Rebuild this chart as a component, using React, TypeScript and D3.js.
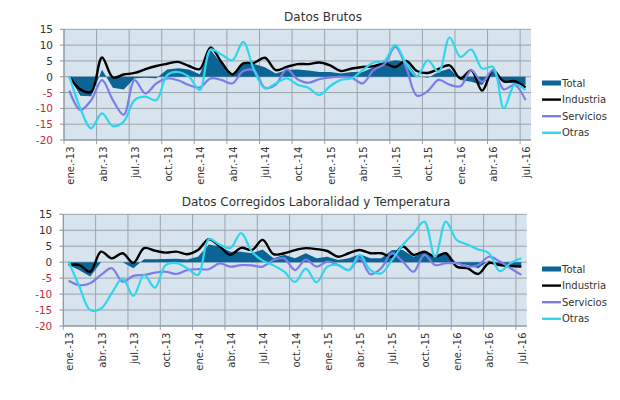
import * as d3 from "d3";
import React from "react";

// month ticks, one label every 3 months (ene.-13 .. jul.-16)
const tickLabels = [
  "ene.-13", "abr.-13", "jul.-13", "oct.-13",
  "ene.-14", "abr.-14", "jul.-14", "oct.-14",
  "ene.-15", "abr.-15", "jul.-15", "oct.-15",
  "ene.-16", "abr.-16", "jul.-16",
];
const yTicks = [15, 10, 5, 0, -5, -10, -15, -20];
const seriesNames = ["Total", "Industria", "Servicios", "Otras"];

// Datos Brutos (monthly, ene.-13 .. jul.-16)
const brutosTotal = [
  0, -6, -6.2, 2.2, -3.5, -4, -0.5, -0.3, -0.5, 2.3, 2.7, 2.3, 0.8, 8.5, 4,
  1.0, 4.2, 4.0, 3.0, 1.0, 2.1, 2.3, 2.0, 1.5, 1.5, 1.0, 1.5, 1.5, 3.0, 4.5,
  5.2, 4.8, 0.2, -0.3, 1.5, 2.6, -1.0, -1.6, -2.6, 2.0, -1.8, -2.1, -2.6,
];
const brutosIndustria = [
  0, -4, -4.8, 6.1, -0.2, 0.7, 1.2, 2.4, 3.4, 4.1, 4.7, 3.4, 2.4, 9.3, 4.6,
  0.7, 4.2, 4.4, 6.0, 2.1, 3.1, 4.0, 4.0, 4.5, 3.6, 1.8, 2.6, 3.1, 3.3, 4.2,
  3.1, 5.0, 1.8, 1.2, 2.5, 3.6, -0.5, 2.0, -4.4, 2.0, -1.5, -1.4, -3.4,
];
const brutosServicios = [
  -4.4, -10.5, -7.4, -1.1, -7.4, -12, -1.1, -5.3, -2.1, -0.5, -1.1, -2.6,
  -3.4, -0.5, -1.0, -2.1, 1.8, 2.0, -3.5, -2.5, 2.3, -0.8, -1.9, -0.8, -0.2,
  0, -0.3, -2.1, 2.1, 4, 9.4, 3, -6, -4.5, -1.0, -2.5, -3.0, 2.0, -1.6, 2.0,
  -4.0, -2.6, -7.4,
];
const brutosOtras = [
  0.2, -10, -16.3, -11.6, -15.6, -14.2, -7.4, -6.3, -7.4, 0.5, 1.5, 0, -4.2,
  8.6, 7, 5.2, 11, 2.1, -3.7, -2.1, -0.5, -2.5, -3.5, -5.8, -3.0, -1.0, -0.5,
  2.1, 4.5, 5.0, 10, 4.2, 0.2, 5.2, 1.5, 12.4, 6.3, 8.6, 2.6, 3.1, -10, -2.6,
  -4.2,
];

// Datos Corregidos Laboralidad y Temperatura
const corrTotal = [
  -0.9, -2.5, -4.5, 0, 0, 0, -1.9, 0.9, 0.9, 1.0, 1.1, 0.8, 1.7, 5.5, 4.9,
  3.3, 3.3, 2.8, 4.0, 1.2, 2.3, 1.2, 2.8, 1.2, 1.7, 0.7, 1.2, 2.5, 1.2, 1.2,
  3.8, 3.8, 1.7, 3.3, 1.2, 3.3, -0.3, -0.9, -1.9, 0.5, -0.9, -1.4, -1.2,
];
const corrIndustria = [
  -0.9, -0.9, -3.0, 3.3, 1.2, 2.8, -0.2, 4.4, 3.6, 3.0, 3.3, 2.5, 3.8, 7.2,
  5.0, 2.3, 4.5, 3.8, 7.0, 2.5, 2.8, 3.8, 4.4, 4.1, 3.5, 1.7, 2.8, 3.8, 2.8,
  2.8, 1.7, 4.9, 2.3, 3.3, 1.7, 2.8, -1.4, -1.9, -3.7, -0.3, -0.9, -1.2, -1.4,
];
const corrServicios = [
  -5.8, -7.2, -6.6, -4.0, -1.9, -6.1, -4.3, -4.0, -3.3, -3.0, -3.7, -2.5,
  -2.2, -2.2, -0.4, -1.4, -0.9, -1.0, -1.4, 0.7, 1.2, -2.5, 0.8, -1.4, 0.2,
  -0.9, -2.5, 1.2, -3.8, -1.9, 2.8, 0.2, -3.0, 2.3, -0.9, -0.3, -0.3, -1.4,
  -0.9, 1.7, 0.2, -1.9, -4.0,
];
const corrOtras = [
  0.2, -7.7, -15, -14.5, -9.7, -5.1, -10.6, -4.0, -8.0, -0.9, -0.3, -1.9,
  -4.0, 7.2, 5.5, 4.4, 9.1, 3.3, 0.5, -1.0, -3.0, -6.2, -2.0, -6.3, -1.4,
  -0.9, -2.5, 2.3, -2.5, -3.5, 0.7, 5.4, 9.0, 12.7, 1.7, 12.7, 7.0, 5.5, 4.0,
  2.8, -2.8, -0.3, 1.2,
];

const colors = {
  total: "#0b6494",
  industria: "#000000",
  servicios: "#7b7de8",
  otras: "#2fd6ec",
};
const font = "'DejaVu Sans', Verdana, sans-serif";

interface PanelProps {
  title: string;
  titleX: number;
  titleY: number;
  left: number;
  right: number;
  top: number;
  bottom: number;
  legendY: number;
  total: number[];
  industria: number[];
  servicios: number[];
  otras: number[];
}

const Panel: React.FC<PanelProps> = (p) => {
  const n = p.total.length;
  const band = d3
    .scaleBand<number>()
    .domain(d3.range(n))
    .range([p.left, p.right]);
  const cx = (i: number) => band(i)! + band.bandwidth() / 2;
  const y = d3.scaleLinear().domain([-20, 15]).range([p.bottom, p.top]);

  const line = d3
    .line<number>()
    .x((_, i) => cx(i))
    .y((d) => y(d))
    .curve(d3.curveCatmullRom.alpha(0.5));
  const area = d3
    .area<number>()
    .x((_, i) => cx(i))
    .y0(y(0))
    .y1((d) => y(d));

  const quarters = d3.range(0, n, 3);
  const lineSeries = [
    { v: p.industria, c: colors.industria, w: 2.4 },
    { v: p.servicios, c: colors.servicios, w: 2.2 },
    { v: p.otras, c: colors.otras, w: 2.2 },
  ];
  const legendColors = [colors.total, colors.industria, colors.servicios, colors.otras];

  return (
    <g fontFamily={font}>
      <text x={p.titleX} y={p.titleY} textAnchor="middle" fontSize={12} fill="#333">
        {p.title}
      </text>
      <rect
        x={p.left}
        y={p.top}
        width={p.right - p.left}
        height={p.bottom - p.top}
        fill="#d7e3ed"
      />
      {yTicks.map((t) => (
        <g key={t}>
          <line x1={p.left} x2={p.right} y1={y(t)} y2={y(t)} stroke="#9ba4ad" strokeWidth={1} />
          <line x1={p.left - 4} x2={p.left} y1={y(t)} y2={y(t)} stroke="#8a939c" />
          <text
            x={p.left - 11}
            y={y(t)}
            textAnchor="end"
            dominantBaseline="central"
            fontSize={10.5}
            fill={t < 0 ? "#c8283a" : "#333"}
          >
            {t}
          </text>
        </g>
      ))}
      {quarters.map((q) => (
        <g key={q}>
          <line x1={band(q)} x2={band(q)} y1={p.top} y2={p.bottom + 4} stroke="#9ba4ad" />
        </g>
      ))}
      <line x1={p.left} x2={p.left} y1={p.top} y2={p.bottom} stroke="#8a939c" />
      <line x1={p.left} x2={p.right} y1={p.bottom} y2={p.bottom} stroke="#8a939c" />
      {quarters.map((q, k) => (
        <text
          key={"l" + q}
          transform={`translate(${cx(q) + 1},${p.bottom + 6.5}) rotate(-90)`}
          textAnchor="end"
          dominantBaseline="central"
          fontSize={10}
          fill="#333"
        >
          {tickLabels[k]}
        </text>
      ))}
      <path d={area(p.total)!} fill={colors.total} />
      {lineSeries.map((s, k) => (
        <path key={k} d={line(s.v)!} fill="none" stroke={s.c} strokeWidth={s.w} />
      ))}
      {seriesNames.map((name, k) => {
        const ly = p.legendY + k * 16.6;
        return (
          <g key={name}>
            {k === 0 ? (
              <rect x={542} y={ly - 2.5} width={19} height={5} fill={legendColors[k]} />
            ) : (
              <line x1={542} x2={561} y1={ly} y2={ly} stroke={legendColors[k]} strokeWidth={2.4} />
            )}
            <text x={562} y={ly} dominantBaseline="central" fontSize={10} fill="#333">
              {name}
            </text>
          </g>
        );
      })}
    </g>
  );
};

export default function App() {
  return (
    <svg
      width={620}
      height={400}
      style={{ position: "absolute", left: 0, top: 0, background: "#fff" }}
    >
      <Panel
        title="Datos Brutos"
        titleX={323}
        titleY={21}
        left={64}
        right={531}
        top={29.3}
        bottom={140}
        legendY={83}
        total={brutosTotal}
        industria={brutosIndustria}
        servicios={brutosServicios}
        otras={brutosOtras}
      />
      <Panel
        title="Datos Corregidos Laboralidad y Temperatura"
        titleX={316}
        titleY={206}
        left={63.3}
        right={526.7}
        top={214.3}
        bottom={326}
        legendY={269}
        total={corrTotal}
        industria={corrIndustria}
        servicios={corrServicios}
        otras={corrOtras}
      />
    </svg>
  );
}
